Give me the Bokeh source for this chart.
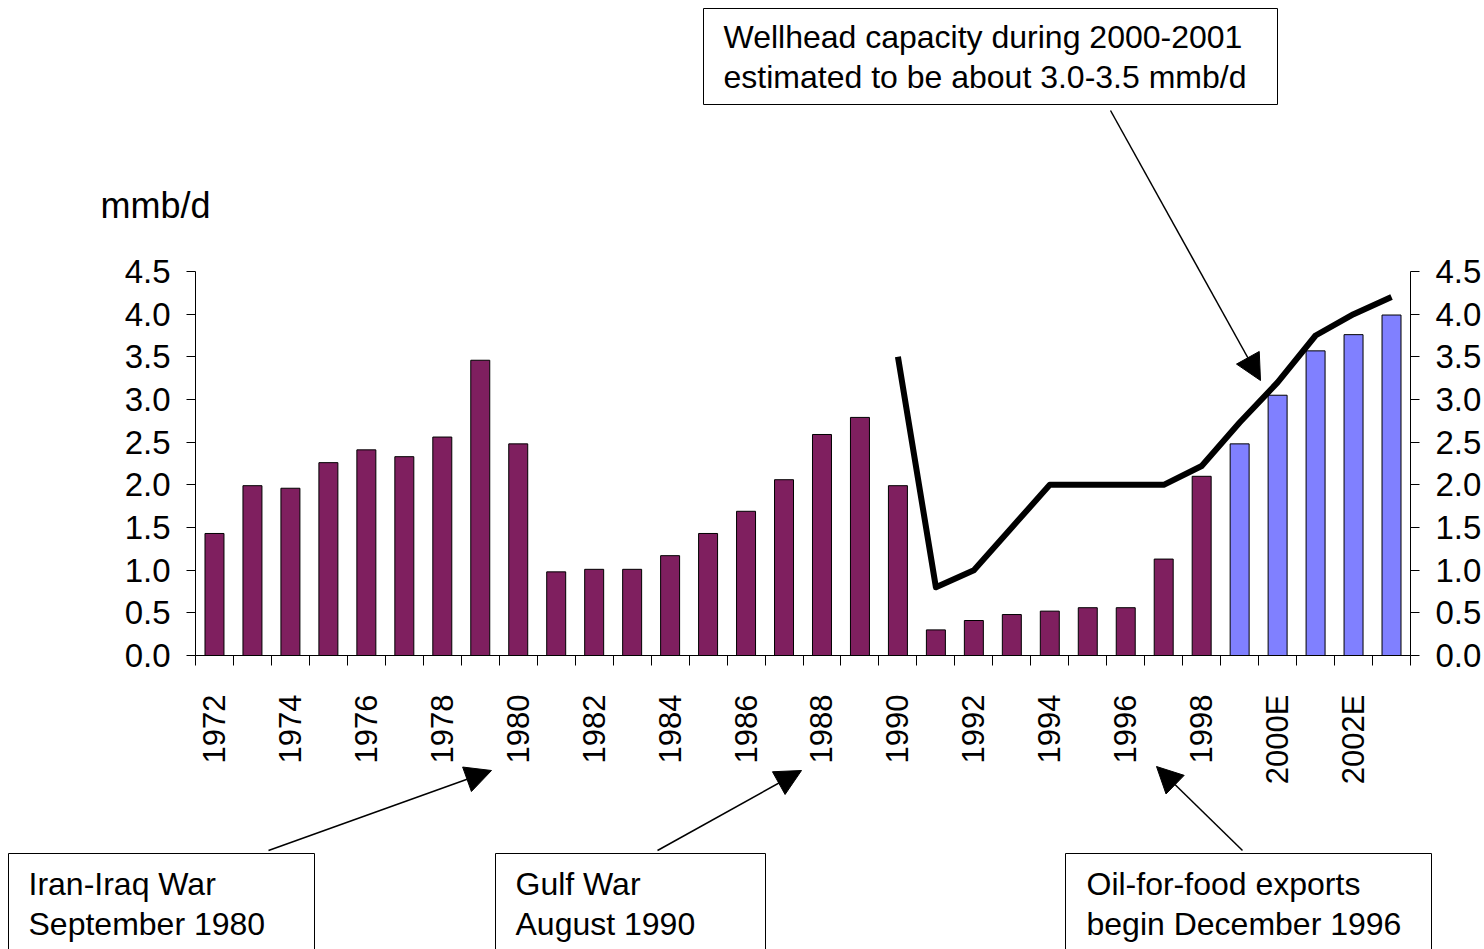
import numpy as np
from bokeh.plotting import figure
from bokeh.models import (Range1d, LinearAxis, FixedTicker, Label, Arrow,
                          NormalHead, BoxAnnotation, ColumnDataSource)
from bokeh.embed import file_html
from bokeh.resources import INLINE

# ---------------- data ----------------
years = list(range(1972, 2004))
production = [1.43, 1.99, 1.96, 2.26, 2.41, 2.33, 2.56, 3.46, 2.48, 0.98,
              1.01, 1.01, 1.17, 1.43, 1.69, 2.06, 2.59, 2.79, 1.99, 0.30,
              0.41, 0.48, 0.52, 0.56, 0.56, 1.13, 2.10, 2.48, 3.05, 3.57,
              3.76, 3.99]
forecast_from = 1999
capacity_years = list(range(1990, 2004))
capacity = [3.5, 0.8, 1.0, 1.5, 2.0, 2.0, 2.0, 2.0, 2.22, 2.73, 3.2, 3.75, 4.0, 4.2]
label_years = list(range(1972, 2004, 2))
x_tick_labels = ["1972", "1974", "1976", "1978", "1980", "1982", "1984", "1986",
                 "1988", "1990", "1992", "1994", "1996", "1998", "2000E", "2002E"]
y_ticks = [0.0, 0.5, 1.0, 1.5, 2.0, 2.5, 3.0, 3.5, 4.0, 4.5]
y_tick_labels = ["0.0", "0.5", "1.0", "1.5", "2.0", "2.5", "3.0", "3.5", "4.0", "4.5"]

unit_label = "mmb/d"
note_top = ["Wellhead capacity during 2000-2001", "estimated to be about 3.0-3.5 mmb/d"]
note_iran = ["Iran-Iraq War", "September 1980"]
note_gulf = ["Gulf War", "August 1990"]
note_oil = ["Oil-for-food exports", "begin December 1996"]

PURPLE = "#7F1F5F"
BLUE = "#8080FF"
FONT = "Liberation Sans"

# ---------------- layout ----------------
W, H = 1484, 949
L, R, T, B = 195, 1410, 271, 655          # pixel bounds of the value area
n = len(years)
y_max = 4.5
ppx = (R - L) / n
ppy = (B - T) / y_max
x_range = Range1d(-L / ppx, n + (W - R) / ppx)
y_range = Range1d(-(H - B) / ppy, y_max + T / ppy)

x0 = years[0]
pos = [y - x0 + 0.5 for y in years]
colors = [BLUE if y >= forecast_from else PURPLE for y in years]

p = figure(width=W, height=H, x_range=x_range, y_range=y_range,
           output_backend="svg", toolbar_location=None,
           x_axis_type=None, y_axis_type=None, min_border=0)
p.outline_line_color = None
p.background_fill_color = "white"
p.border_fill_color = "white"

src = ColumnDataSource(dict(x=pos, top=production, color=colors))
p.vbar(x="x", top="top", width=0.5, bottom=0, fill_color="color",
       line_color="black", line_width=1, source=src)

cap_pos = [y - x0 + 0.5 for y in capacity_years]
p.line(cap_pos, capacity, line_color="black", line_width=6, line_join="round")

# x axis
xaxis = LinearAxis(
    fixed_location=0, bounds=(0, n),
    ticker=FixedTicker(ticks=[y - x0 + 0.5 for y in label_years],
                       minor_ticks=list(range(0, n + 1))),
    major_label_overrides={y - x0 + 0.5: t for y, t in zip(label_years, x_tick_labels)},
    major_label_orientation=np.pi / 2,
    major_tick_out=0, major_tick_in=0, minor_tick_out=10, minor_tick_in=0,
    major_label_standoff=29,
    major_label_text_font=FONT, major_label_text_font_size="31px",
    major_label_text_color="black",
    axis_line_color="black", minor_tick_line_color="black")
p.add_layout(xaxis, "below")

def make_yaxis(loc):
    return LinearAxis(
        fixed_location=loc, bounds=(0, y_max),
        ticker=FixedTicker(ticks=y_ticks),
        major_label_overrides={v: t for v, t in zip(y_ticks, y_tick_labels)},
        major_tick_out=9, major_tick_in=0, minor_tick_out=0, minor_tick_in=0,
        major_label_standoff=16,
        major_label_text_font=FONT, major_label_text_font_size="33px",
        major_label_text_color="black",
        axis_line_color="black", major_tick_line_color="black")

p.add_layout(make_yaxis(0), "left")
p.add_layout(make_yaxis(n), "right")

# ---------------- annotations (screen units, frame = whole canvas) ----------------
TEXT_DY = 12   # renderer places the alphabetic baseline slightly low

def sx(px):
    return px

def sy(py):
    return H - py

def add_text(txt, px, py, size="32px"):
    p.add_layout(Label(x=sx(px), y=sy(py - TEXT_DY), x_units="screen", y_units="screen",
                       text=txt, text_font=FONT, text_font_size=size,
                       text_color="black", text_baseline="alphabetic",
                       text_align="left"))

def add_box(left, right, top, bottom):
    p.add_layout(BoxAnnotation(left=sx(left), right=sx(right), top=sy(top), bottom=sy(bottom),
                               left_units="screen", right_units="screen",
                               top_units="screen", bottom_units="screen",
                               fill_color="white", fill_alpha=1.0,
                               line_color="black", line_width=1, line_alpha=1.0))

def add_arrow(x_start, y_start, x_end, y_end):
    p.add_layout(Arrow(x_start=sx(x_start), y_start=sy(y_start), x_end=sx(x_end), y_end=sy(y_end),
                       start_units="screen", end_units="screen",
                       line_color="black", line_width=1.5,
                       end=NormalHead(size=26, fill_color="black", line_color="black")))

add_text(unit_label, 100, 217, "36px")

add_box(703, 1277, 8, 104)
add_text(note_top[0], 723, 48)
add_text(note_top[1], 723, 88)
add_arrow(1110, 110, 1260, 380)

add_box(8, 314, 853, 965)
add_text(note_iran[0], 28, 895)
add_text(note_iran[1], 28, 935)
add_arrow(268, 850, 491, 770)

add_box(495, 765, 853, 965)
add_text(note_gulf[0], 515, 895)
add_text(note_gulf[1], 515, 935)
add_arrow(657, 850, 801, 770)

add_box(1065, 1431, 853, 965)
add_text(note_oil[0], 1086, 895)
add_text(note_oil[1], 1086, 935)
add_arrow(1242, 850, 1156, 766)

open("out.html", "w").write(file_html(p, INLINE))
